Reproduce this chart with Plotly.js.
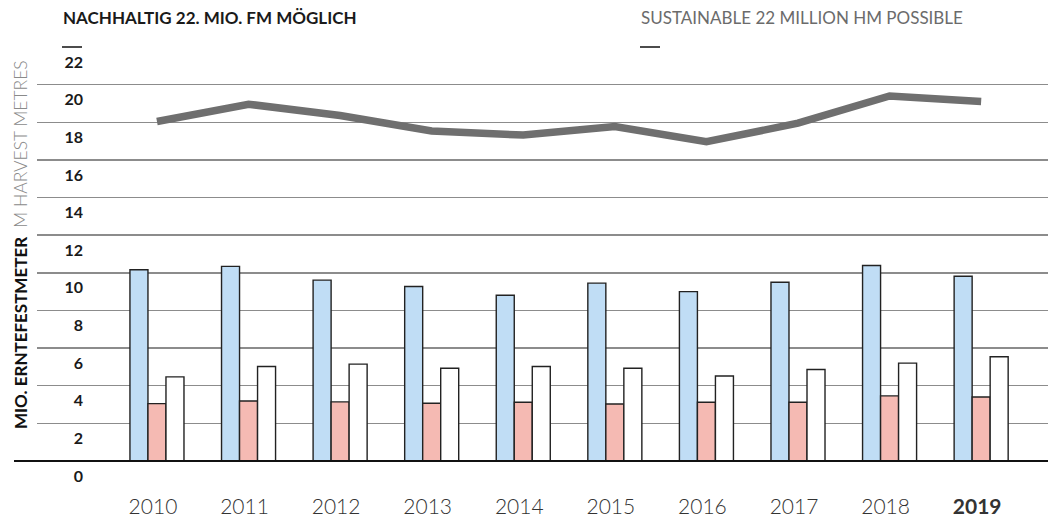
<!DOCTYPE html>
<html>
<head>
<meta charset="utf-8">
<script src="https://cdn.plot.ly/plotly-3.0.1.min.js"></script>
<style>html,body{margin:0;padding:0;background:#fff;}#chart{width:1048px;height:522px;}</style>
</head>
<body>
<div id="chart"></div>
<script>
// ---- data ----
const years = ['2010','2011','2012','2013','2014','2015','2016','2017','2018','2019'];
const yearLabels = ['2010','2011','2012','2013','2014','2015','2016','2017','2018','<b>2019</b>'];
const blueVals  = [10.16, 10.34, 9.61, 9.27, 8.81, 9.45, 9.00, 9.50, 10.39, 9.82];
const pinkVals  = [3.05, 3.19, 3.14, 3.07, 3.12, 3.03, 3.12, 3.12, 3.46, 3.40];
const whiteVals = [4.47, 5.02, 5.15, 4.93, 5.02, 4.93, 4.52, 4.86, 5.20, 5.54];
const lineVals  = [18.04, 18.96, 18.36, 17.54, 17.32, 17.77, 16.97, 17.95, 19.40, 19.10];
const gridVals  = [2, 4, 6, 8, 10, 12, 14, 16, 18, 20];
const labelVals = [0, 2, 4, 6, 8, 10, 12, 14, 16, 18, 20, 22];
const titleDe = 'NACHHALTIG 22. MIO. FM MÖGLICH';
const titleEn = 'SUSTAINABLE 22 MILLION HM POSSIBLE';
const yTitleDe = 'MIO. ERNTEFESTMETER';
const yTitleEn = 'M HARVEST METRES';

// ---- chart ----
const W = 1048, ML = 37, PW = W - ML;
const px = v => (v - ML) / PW;   // pixel -> paper x
const barLine = {color: '#222', width: 1.4};

const traces = [
  {type: 'bar', x: years, y: blueVals, marker: {color: '#c0ddf5', line: barLine}, offsetgroup: 'a'},
  {type: 'bar', x: years, y: pinkVals, marker: {color: '#f5bab3', line: barLine}, offsetgroup: 'b'},
  {type: 'bar', x: years, y: whiteVals, marker: {color: '#ffffff', line: barLine}, offsetgroup: 'c'},
  {type: 'scatter', mode: 'lines', x: years, y: lineVals, yaxis: 'y2',
   line: {color: '#6f6f6f', width: 7.5}}
];

const layout = {
  width: 1048, height: 522,
  margin: {l: ML, r: 0, t: 47, b: 61, pad: 0},
  paper_bgcolor: '#fff', plot_bgcolor: '#fff',
  showlegend: false,
  barmode: 'group', bargap: 0.41, bargroupgap: 0,
  font: {family: 'Lato, sans-serif', color: '#222'},
  xaxis: {
    type: 'category', range: [-1.31, 9.73],
    tickmode: 'array', tickvals: years, ticktext: yearLabels,
    showgrid: false, zeroline: false, showline: false, ticks: '',
    tickfont: {family: 'Lato', size: 21, weight: 300, color: '#333'},
    ticklabelstandoff: 31, ticklabelshift: -4
  },
  yaxis: {
    range: [0, 22], tickmode: 'array', tickvals: gridVals,
    showticklabels: false, ticks: '', showline: false, zeroline: false,
    showgrid: true, gridcolor: '#8c8c8c', gridwidth: 1.5
  },
  yaxis2: {
    range: [0, 22], overlaying: 'y', anchor: 'free', side: 'left', position: px(83),
    tickmode: 'array', tickvals: labelVals, ticktext: labelVals.map(String),
    showgrid: false, zeroline: false, showline: false, ticks: '',
    tickfont: {family: 'Lato', size: 16, weight: 700, color: '#1a1a1a'},
    ticklabelshift: 15
  },
  shapes: [
    {type: 'line', xref: 'paper', yref: 'paper', x0: px(14), x1: 1, y0: 0, y1: 0,
     line: {color: '#111', width: 2}},
    {type: 'line', xref: 'paper', yref: 'paper', x0: px(62), x1: px(82), y0: 1, y1: 1,
     line: {color: '#111', width: 1.5}},
    {type: 'line', xref: 'paper', yref: 'paper', x0: px(640), x1: px(660), y0: 1, y1: 1,
     line: {color: '#111', width: 1.5}}
  ],
  annotations: [
    {xref: 'paper', yref: 'paper', x: px(61), y: (461 - 18) / 414, xanchor: 'left', yanchor: 'middle',
     text: '<b>' + titleDe + '</b>', showarrow: false,
     font: {family: 'Lato', size: 17, color: '#1a1a1a'}},
    {xref: 'paper', yref: 'paper', x: px(639), y: (461 - 18) / 414, xanchor: 'left', yanchor: 'middle',
     text: titleEn, showarrow: false,
     font: {family: 'Lato', size: 17, weight: 400, color: '#6b6b6b'}},
    {xref: 'paper', yref: 'paper', x: px(20), y: (461 - 245) / 414, xanchor: 'center', yanchor: 'middle',
     textangle: -90, showarrow: false,
     text: '<b>' + yTitleDe + '</b>  <span style="color:#8a8a8a;font-size:17.5px">' + yTitleEn + '</span>',
     font: {family: 'Lato', size: 17, weight: 300, color: '#111'}}
  ]
};

Plotly.newPlot('chart', traces, layout, {displayModeBar: false, staticPlot: true});
</script>
</body>
</html>
